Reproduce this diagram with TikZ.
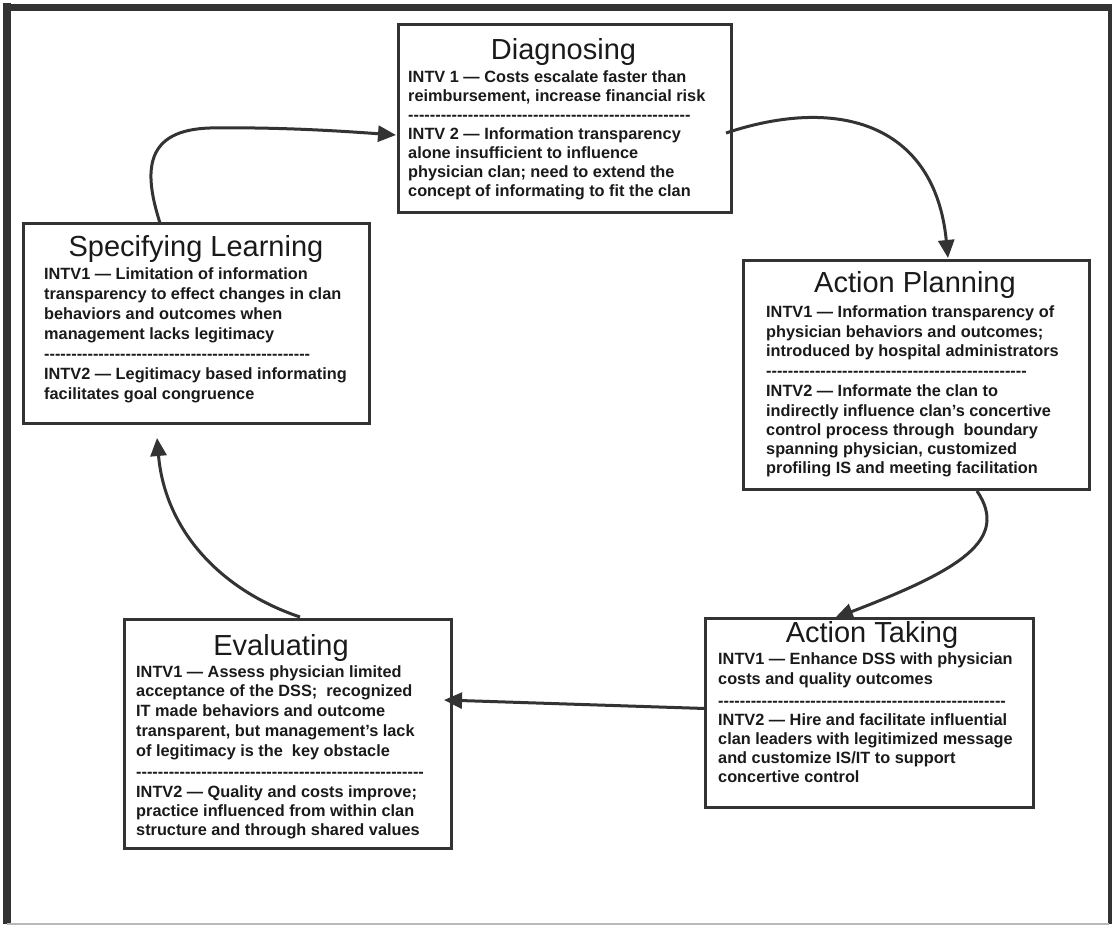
\documentclass[tikz,border=0pt]{standalone}
\usepackage{fontspec}
\newfontfamily\lsans{Liberation Sans}
\usetikzlibrary{arrows.meta,calc}
\ExplSyntaxOn
\NewDocumentCommand\hrow{m}{\prg_replicate:nn{#1}{-\kern0pt}}
\ExplSyntaxOff
\newcommand\para[2]{\parbox[t]{340pt}{\fontsize{16.3}{#1}\selectfont\raggedright #2}}
\definecolor{ln}{HTML}{333333}
\definecolor{txt}{HTML}{1A1A1A}
\begin{document}
\begin{tikzpicture}[x=1pt,y=-1pt,
  box/.style={draw=ln, line width=3pt, fill=white, anchor=north west, inner sep=0pt},
  ttl/.style={anchor=base, inner sep=0pt, font=\lsans\fontsize{29}{32}\selectfont, text=txt},
  bodytxt/.style={anchor=base west, inner sep=0pt, font=\lsans\bfseries, text=txt},
  seprow/.style={anchor=base west, inner sep=0pt, font=\lsans\bfseries\fontsize{16.3}{19}\selectfont, text=txt},
  arr/.style={draw=ln, line width=3pt, -{Triangle[length=18pt,width=16pt]}},
  frameline/.style={draw=ln}]
\useasboundingbox (0,0) rectangle (1112,925);
\fill[white] (0,0) rectangle (1112,925);
% outer frame
\draw[frameline, line width=8pt] (7,3) -- (7,924);
\draw[frameline, line width=7pt] (3,7.5) -- (1111,7.5);
\draw[frameline, line width=4pt] (1109.5,4) -- (1109.5,924);
\draw[line width=2pt, gray!55] (7,923.5) -- (1109,923.5);

% boxes
\node[box, minimum width=333pt, minimum height=188pt] (dg) at (397,23) {};
\node[box, minimum width=346pt, minimum height=200pt] (sl) at (22,222) {};
\node[box, minimum width=346pt, minimum height=229pt] (ap) at (742,259) {};
\node[box, minimum width=328pt, minimum height=189pt] (at) at (704,617) {};
\node[box, minimum width=327pt, minimum height=229pt] (ev) at (123,618) {};

% Diagnosing
\node[ttl] (dgt) at (563.5,60) {Diagnosing};
\node[bodytxt] (dg1) at (408,83) {\para{18.5}{INTV 1 — Costs escalate faster than\\reimbursement, increase financial risk}};
\node[seprow] (dgs) at (408,121) {\hrow{52}};
\node[bodytxt] (dg2) at (408,140) {\para{19}{INTV 2 — Information transparency\\alone insufficient to influence\\physician clan; need to extend the\\concept of informating to fit the clan}};

% Specifying Learning
\node[ttl] (slt) at (196,257) {Specifying Learning};
\node[bodytxt] (sl1) at (44,280) {\para{20}{INTV1 — Limitation of information\\transparency to effect changes in clan\\behaviors and outcomes when\\management lacks legitimacy}};
\node[seprow] (sls) at (44,360) {\hrow{49}};
\node[bodytxt] (sl2) at (44,380) {\para{20}{INTV2 — Legitimacy based informating\\facilitates goal congruence}};

% Action Planning
\node[ttl] (apt) at (915,293) {Action Planning};
\node[bodytxt] (ap1) at (766,318) {\para{19.5}{INTV1 — Information transparency of\\physician behaviors and outcomes;\\introduced by hospital administrators}};
\node[seprow] (aps) at (766,377) {\hrow{48}};
\node[bodytxt] (ap2) at (766,397) {\para{19.25}{INTV2 — Informate the clan to\\indirectly influence clan’s concertive\\control process through\ \ boundary\\spanning physician, customized\\profiling IS and meeting facilitation}};

% Action Taking
\node[ttl] (att) at (872,642) {Action Taking};
\node[bodytxt] (at1) at (718,664) {\para{20}{INTV1 — Enhance DSS with physician\\costs and quality outcomes}};
\node[seprow] (ats) at (718,706) {\hrow{53}};
\node[bodytxt] (at2) at (718,725) {\para{19.3}{INTV2 — Hire and facilitate influential\\clan leaders with legitimized message\\and customize IS/IT to support\\concertive control}};

% Evaluating
\node[ttl] (evt) at (281,655) {Evaluating};
\node[bodytxt] (ev1) at (136,677) {\para{19.8}{INTV1 — Assess physician limited\\acceptance of the DSS;\ \ recognized\\IT made behaviors and outcome\\transparent, but management’s lack\\of legitimacy is the\ \ key obstacle}};
\node[seprow] (evs) at (136,777) {\hrow{53}};
\node[bodytxt] (ev2) at (136,797) {\para{19}{INTV2 — Quality and costs improve;\\practice influenced from within clan\\structure and through shared values}};

% connectors
\draw[arr] ($(sl.north west)+(138,1)$) .. controls (143,170) and (145,130) .. (210,128)
  .. controls (280,127) and (340,131) .. ($(dg.north west)+(-1,112)$);
\draw[arr] ($(dg.north east)+(-7,110)$) .. controls (840,95) and (935,125) .. ($(ap.north west)+(206,-1)$);
\draw[arr] ($(ap.south west)+(235,0)$) .. controls (1010,540) and (960,570) .. ($(at.north west)+(131,1)$);
\draw[arr] ($(at.west)+(1,-4.5)$) -- ($(ev.east)+(-9,-34)$);
\draw[arr] ($(ev.north west)+(177,-1)$) .. controls (220,590) and (165,530) .. ($(sl.south west)+(135,13)$);
\end{tikzpicture}
\end{document}
